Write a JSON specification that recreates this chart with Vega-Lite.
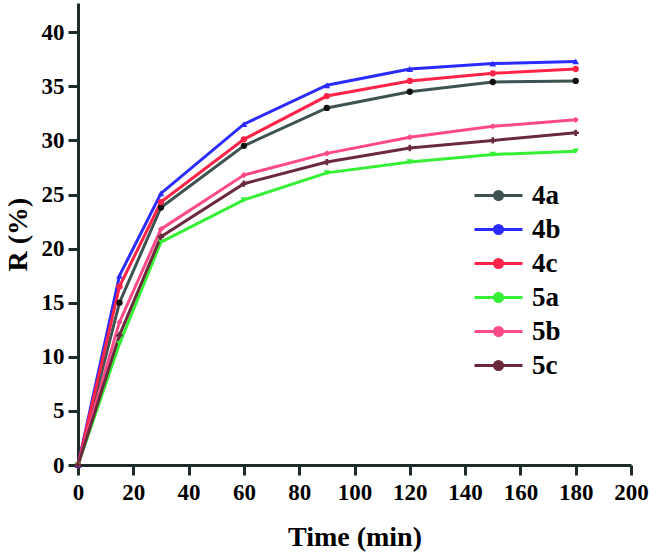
{
  "$schema": "https://vega.github.io/schema/vega-lite/v6.json",
  "width": 553,
  "height": 462,
  "autosize": {"type": "none"},
  "padding": {"left": 78, "top": 3, "right": 30, "bottom": 87},
  "background": "white",
  "config": {
    "view": {"stroke": null},
    "axis": {
      "grid": false,
      "domainColor": "#1e2b2b",
      "domainWidth": 3,
      "tickColor": "#1e2b2b",
      "tickWidth": 3,
      "tickSize": 10,
      "labelFont": "Liberation Serif",
      "labelFontWeight": "bold",
      "labelFontSize": 23,
      "labelColor": "black",
      "labelFlush": false,
      "labelOverlap": false,
      "titleFont": "Liberation Serif",
      "titleFontWeight": "bold",
      "titleFontSize": 28,
      "titleColor": "black"
    }
  },
  "data": {
    "values": [
      {"t": 0, "s": "4a", "r": 0}, {"t": 15, "s": "4a", "r": 15.0}, {"t": 30, "s": "4a", "r": 23.8}, {"t": 60, "s": "4a", "r": 29.5}, {"t": 90, "s": "4a", "r": 33.0}, {"t": 120, "s": "4a", "r": 34.5}, {"t": 150, "s": "4a", "r": 35.4}, {"t": 180, "s": "4a", "r": 35.5},
      {"t": 0, "s": "4b", "r": 0}, {"t": 15, "s": "4b", "r": 17.5}, {"t": 30, "s": "4b", "r": 25.1}, {"t": 60, "s": "4b", "r": 31.5}, {"t": 90, "s": "4b", "r": 35.1}, {"t": 120, "s": "4b", "r": 36.6}, {"t": 150, "s": "4b", "r": 37.1}, {"t": 180, "s": "4b", "r": 37.3},
      {"t": 0, "s": "4c", "r": 0}, {"t": 15, "s": "4c", "r": 16.5}, {"t": 30, "s": "4c", "r": 24.3}, {"t": 60, "s": "4c", "r": 30.1}, {"t": 90, "s": "4c", "r": 34.1}, {"t": 120, "s": "4c", "r": 35.5}, {"t": 150, "s": "4c", "r": 36.2}, {"t": 180, "s": "4c", "r": 36.6},
      {"t": 0, "s": "5a", "r": 0}, {"t": 15, "s": "5a", "r": 11.2}, {"t": 30, "s": "5a", "r": 20.6}, {"t": 60, "s": "5a", "r": 24.5}, {"t": 90, "s": "5a", "r": 27.0}, {"t": 120, "s": "5a", "r": 28.0}, {"t": 150, "s": "5a", "r": 28.7}, {"t": 180, "s": "5a", "r": 29.0},
      {"t": 0, "s": "5b", "r": 0}, {"t": 15, "s": "5b", "r": 13.2}, {"t": 30, "s": "5b", "r": 21.8}, {"t": 60, "s": "5b", "r": 26.8}, {"t": 90, "s": "5b", "r": 28.8}, {"t": 120, "s": "5b", "r": 30.3}, {"t": 150, "s": "5b", "r": 31.3}, {"t": 180, "s": "5b", "r": 31.9},
      {"t": 0, "s": "5c", "r": 0}, {"t": 15, "s": "5c", "r": 12.0}, {"t": 30, "s": "5c", "r": 21.1}, {"t": 60, "s": "5c", "r": 26.0}, {"t": 90, "s": "5c", "r": 28.0}, {"t": 120, "s": "5c", "r": 29.3}, {"t": 150, "s": "5c", "r": 30.0}, {"t": 180, "s": "5c", "r": 30.7}
    ]
  },
  "encoding": {
    "x": {
      "field": "t", "type": "quantitative",
      "scale": {"domain": [0, 200], "nice": false},
      "axis": {"values": [0, 20, 40, 60, 80, 100, 120, 140, 160, 180, 200], "title": "Time (min)", "labelPadding": 6, "titlePadding": 19}
    },
    "y": {
      "field": "r", "type": "quantitative",
      "scale": {"domain": [0, 42.7], "nice": false},
      "axis": {"values": [0, 5, 10, 15, 20, 25, 30, 35, 40], "title": "R (%)", "labelPadding": 4, "titlePadding": 9}
    },
    "color": {
      "field": "s", "type": "nominal",
      "scale": {"domain": ["4a", "4b", "4c", "5a", "5b", "5c"], "range": ["#3f5252", "#2b2bff", "#ff2347", "#35f035", "#ff4a8a", "#6b2a3c"]},
      "legend": {
        "title": null,
        "orient": "none",
        "legendX": 404,
        "legendY": 176,
        "padding": 0,
        "symbolType": "M-1.6,0L-0.27,0M0.27,0L1.6,0M-0.27,0A0.27,0.27 0 1 1 0.27,0A0.27,0.27 0 1 1 -0.27,0Z",
        "symbolSize": 900,
        "symbolStrokeWidth": 3,
        "labelOffset": 17,
        "rowPadding": 4,
        "labelFont": "Liberation Serif",
        "labelFontWeight": "bold",
        "labelFontSize": 27,
        "labelColor": "black",
        "labelBaseline": "middle",
        "encode": {
          "symbols": {"update": {
            "fill": {"scale": "color", "field": "value"},
            "stroke": {"scale": "color", "field": "value"},
            "strokeWidth": {"value": 3},
            "opacity": {"value": 1}
          }}
        }
      }
    }
  },
  "layer": [
    {"mark": {"type": "line", "strokeWidth": 3}},
    {
      "transform": [{"filter": {"field": "s", "equal": "4a"}}],
      "mark": {"type": "point", "shape": "circle", "filled": true, "size": 40, "opacity": 1, "color": "#111111"},
      "encoding": {"color": {"value": "#111111"}}
    },
    {
      "transform": [{"filter": {"field": "s", "equal": "4c"}}],
      "mark": {"type": "point", "shape": "circle", "filled": true, "size": 40, "opacity": 1}
    },
    {
      "transform": [{"filter": {"field": "s", "equal": "4b"}}],
      "mark": {"type": "point", "shape": "triangle-up", "filled": true, "size": 45, "opacity": 1}
    },
    {
      "transform": [{"filter": {"field": "s", "equal": "5a"}}],
      "mark": {"type": "point", "shape": "triangle-down", "filled": true, "size": 40, "opacity": 1}
    },
    {
      "transform": [{"filter": {"field": "s", "equal": "5b"}}],
      "mark": {"type": "point", "shape": "diamond", "filled": true, "size": 40, "opacity": 1}
    },
    {
      "transform": [{"filter": {"field": "s", "equal": "5c"}}],
      "mark": {"type": "point", "shape": "cross", "filled": true, "size": 40, "opacity": 1}
    }
  ]
}
